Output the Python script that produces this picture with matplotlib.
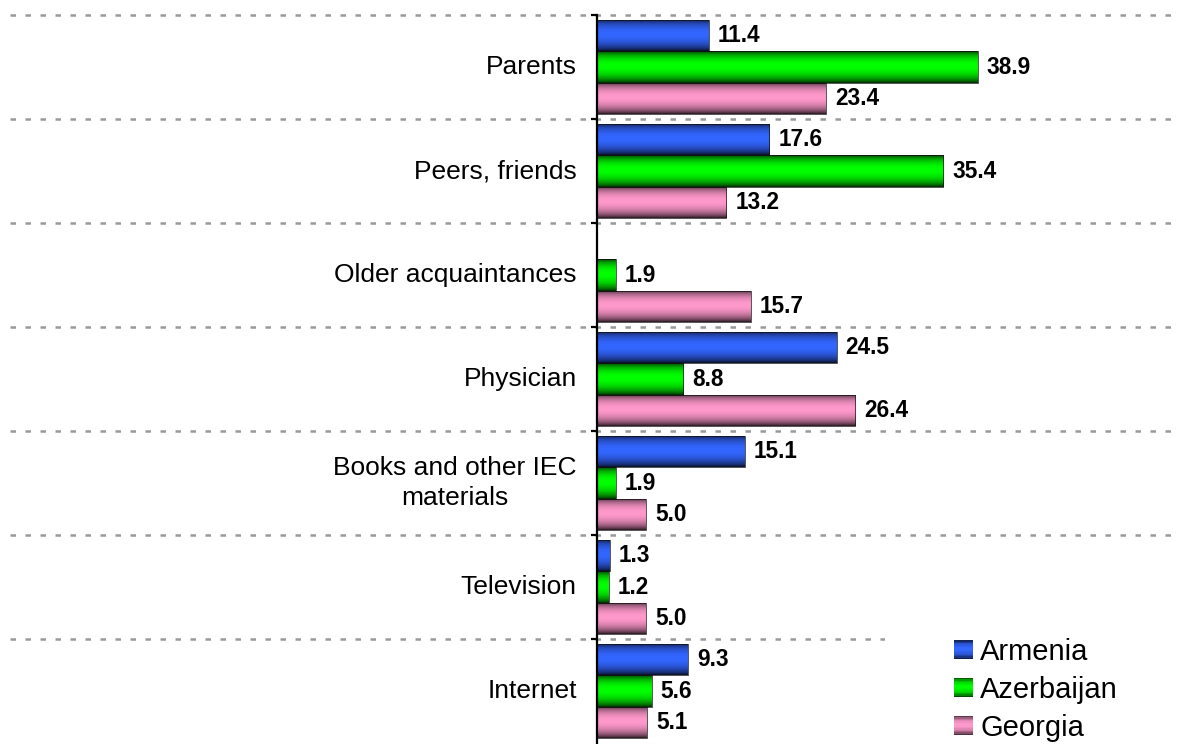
import numpy as np
import matplotlib
matplotlib.use("Agg")
import matplotlib.pyplot as plt
import matplotlib.patches as mpatches
from matplotlib.legend_handler import HandlerBase

plt.rcParams["font.family"] = ["Liberation Sans", "DejaVu Sans"]

# =========================
# Data
# =========================
categories = [
    "Parents",
    "Peers, friends",
    "Older acquaintances",
    "Physician",
    "Books and other IEC\nmaterials",
    "Television",
    "Internet",
]
series_names = ["Armenia", "Azerbaijan", "Georgia"]
armenia = [11.4, 17.6, np.nan, 24.5, 15.1, 1.3, 9.3]
azerbaijan = [38.9, 35.4, 1.9, 8.8, 1.9, 1.2, 5.6]
georgia = [23.4, 13.2, 15.7, 26.4, 5.0, 5.0, 5.1]
series_values = [armenia, azerbaijan, georgia]
series_colors = ["#3366ff", "#00ff00", "#ff99cc"]


def shade_profile(n=64):
    # dark edges, bright middle (cylinder-like look)
    t = (np.arange(n) + 0.5) / n
    b = np.sin(np.pi * t ** 0.9) ** 0.6
    return 0.06 + 0.94 * b


def gradient_image(color, n=64):
    rgb = np.array(matplotlib.colors.to_rgb(color))
    prof = shade_profile(n)
    return (prof[:, None, None] * rgb[None, None, :]).clip(0, 1)


class GradientHandler(HandlerBase):
    def create_artists(self, legend, orig_handle, xdescent, ydescent,
                       width, height, fontsize, trans):
        rgb = np.array(matplotlib.colors.to_rgb(orig_handle.get_facecolor()))
        prof = shade_profile(14)
        artists = []
        n = len(prof)
        for k, p in enumerate(prof):
            y = -ydescent + height * (1 - (k + 1) / n)
            r = mpatches.Rectangle((-xdescent, y), width, height / n + 0.05,
                                   facecolor=rgb * p, edgecolor="none",
                                   transform=trans)
            artists.append(r)
        return artists


# =========================
# Figure
# =========================
W, H = 1180, 744
fig = plt.figure(figsize=(W / 100, H / 100), dpi=100)
ax = fig.add_axes([10 / W, 1 / H, 1174 / W, 728 / H])

n_cat = len(categories)
y_pos = np.arange(n_cat)
bar_h = 0.3
offsets = [-bar_h, 0, bar_h]

for vals, off, col in zip(series_values, offsets, series_colors):
    vals = np.array(vals, dtype=float)
    bars = ax.barh(y_pos + off, np.nan_to_num(vals), height=bar_h,
                   color="none", edgecolor="#111111", linewidth=0.5, zorder=3)
    img = gradient_image(col)
    for rect, v, yc in zip(bars, vals, y_pos + off):
        if np.isnan(v):
            rect.set_visible(False)
            continue
        im = ax.imshow(img, extent=(0, v, yc + bar_h / 2, yc - bar_h / 2),
                       aspect="auto", interpolation="bilinear", zorder=2.5)
        im.set_clip_path(rect)
        ax.annotate(f"{v:.1f}", xy=(v, yc), xytext=(6.5, 0),
                    textcoords="offset points", ha="left", va="center",
                    fontsize=16.3, fontweight="bold", color="black", zorder=4)

# category labels left of the axis
for i, lab in enumerate(categories):
    ax.annotate(lab, xy=(0, i), xytext=(-14.5, 0), textcoords="offset points",
                ha="right", va="center", multialignment="center",
                linespacing=1.35, fontsize=19, color="black")

# dashed separators between categories
bounds = np.arange(-0.5, n_cat + 0.5, 1.0)
for b in bounds[:-1]:
    ax.axhline(b, color="#999999", linewidth=1.8, linestyle=(0, (2.2, 3.8)),
               zorder=1, clip_on=False)

ax.set_xlim(-60, 60)
ax.set_ylim(n_cat - 0.5, -0.5)

for side in ["top", "right", "bottom"]:
    ax.spines[side].set_visible(False)
ax.spines["left"].set_position(("data", 0))
ax.spines["left"].set_linewidth(1.6)
ax.spines["left"].set_zorder(5)
ax.set_xticks([])
ax.set_yticks(bounds[:-1])
ax.set_yticklabels([])
ax.tick_params(axis="y", direction="out", length=4.5, width=1.6)

# white legend box covering the gridline
ax.add_patch(mpatches.Rectangle((885 / W, 0), (W - 885) / W, 112 / H,
                                transform=fig.transFigure, facecolor="white",
                                edgecolor="none", zorder=1.5, clip_on=False))

handles = [mpatches.Patch(facecolor=c, label=n)
           for c, n in zip(series_colors, series_names)]
fig.legend(handles=handles, loc="upper left",
           bbox_to_anchor=(954 / W, 1 - 638 / H), frameon=False,
           fontsize=21, handlelength=0.65, handleheight=0.62,
           handletextpad=0.25, labelspacing=0.34, borderpad=0,
           borderaxespad=0, handler_map={mpatches.Patch: GradientHandler()})

fig.savefig("out.png", dpi=100)
plt.close(fig)
